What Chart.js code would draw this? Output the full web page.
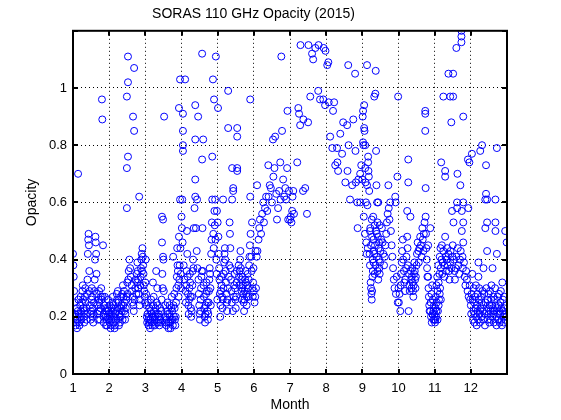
<!DOCTYPE html>
<html>
<head>
<meta charset="utf-8">
<script src="https://cdn.jsdelivr.net/npm/chart.js@4"></script>
<style>
  body { margin: 0; background: #fff; }
  canvas { display: block; }
</style>
</head>
<body>
<canvas id="grafica1" width="561" height="420"></canvas>
<script>
// [month, opacity], one array per month
const m01 = [[1.00,0.42],[1.01,0.38],[1.02,0.34],[1.03,0.29],[1.04,0.25],[1.05,0.21],[1.06,0.19],[1.07,0.17],[1.08,0.20],[1.09,0.23],[1.10,0.18],[1.11,0.16],[1.12,0.19],[1.13,0.22],[1.14,0.70],[1.15,0.26],[1.16,0.21],[1.17,0.18],[1.18,0.17],[1.19,0.20],[1.20,0.24],[1.21,0.27],[1.22,0.22],[1.23,0.19],[1.24,0.21],[1.25,0.25],[1.26,0.29],[1.27,0.31],[1.28,0.26],[1.29,0.23],[1.30,0.20],[1.31,0.18],[1.32,0.22],[1.33,0.27],[1.34,0.30],[1.35,0.25],[1.36,0.21],[1.37,0.19],[1.38,0.23],[1.39,0.28],[1.40,0.33],[1.41,0.42],[1.42,0.47],[1.43,0.49],[1.44,0.45],[1.45,0.36],[1.46,0.29],[1.47,0.24],[1.48,0.21],[1.49,0.19],[1.50,0.22],[1.51,0.26],[1.52,0.30],[1.53,0.27],[1.54,0.23],[1.55,0.20],[1.56,0.18],[1.57,0.21],[1.58,0.25],[1.59,0.29],[1.60,0.33],[1.61,0.40],[1.62,0.48],[1.63,0.46],[1.64,0.42],[1.65,0.35],[1.66,0.28],[1.67,0.24],[1.68,0.21],[1.69,0.19],[1.70,0.22],[1.71,0.26],[1.72,0.29],[1.73,0.25],[1.74,0.22],[1.75,0.19],[1.76,0.23],[1.77,0.27],[1.78,0.30],[1.79,0.26],[1.80,0.96],[1.81,0.89],[1.82,0.27],[1.83,0.45],[1.84,0.20],[1.85,0.18],[1.86,0.21],[1.87,0.24],[1.88,0.27],[1.89,0.23],[1.90,0.20],[1.91,0.17],[1.92,0.22],[1.93,0.19],[1.94,0.17],[1.95,0.20],[1.96,0.23],[1.97,0.26],[1.98,0.22],[1.99,0.19]];
const m02 = [[2.00,0.21],[2.01,0.24],[2.02,0.18],[2.03,0.20],[2.04,0.16],[2.05,0.17],[2.06,0.19],[2.07,0.21],[2.08,0.23],[2.09,0.25],[2.10,0.27],[2.11,0.22],[2.12,0.24],[2.13,0.18],[2.14,0.20],[2.15,0.16],[2.16,0.17],[2.17,0.21],[2.18,0.19],[2.19,0.25],[2.20,0.22],[2.21,0.28],[2.22,0.26],[2.23,0.23],[2.24,0.29],[2.25,0.19],[2.26,0.25],[2.27,0.17],[2.28,0.21],[2.29,0.20],[2.30,0.18],[2.31,0.23],[2.32,0.20],[2.33,0.27],[2.34,0.24],[2.35,0.22],[2.36,0.28],[2.37,0.19],[2.38,0.31],[2.39,0.24],[2.40,0.27],[2.41,0.29],[2.42,0.22],[2.43,0.25],[2.44,0.19],[2.45,0.21],[2.46,0.23],[2.47,0.26],[2.48,0.27],[2.49,0.97],[2.49,0.72],[2.49,0.58],[2.50,0.32],[2.51,0.28],[2.52,1.11],[2.52,1.02],[2.52,0.76],[2.53,0.33],[2.54,0.36],[2.56,0.40],[2.58,0.37],[2.60,0.34],[2.62,0.31],[2.63,0.29],[2.64,0.25],[2.65,0.27],[2.66,0.90],[2.67,0.24],[2.68,0.22],[2.69,1.07],[2.69,0.85],[2.70,0.26],[2.72,0.30],[2.73,0.33],[2.75,0.28],[2.76,0.35],[2.77,0.32],[2.78,0.39],[2.79,0.36],[2.80,0.33],[2.81,0.30],[2.82,0.28],[2.83,0.62],[2.84,0.24],[2.85,0.26],[2.86,0.31],[2.87,0.34],[2.88,0.37],[2.89,0.40],[2.90,0.42],[2.91,0.36],[2.92,0.44],[2.93,0.41],[2.94,0.38],[2.95,0.35],[2.96,0.31],[2.97,0.29],[2.98,0.27],[2.99,0.25]];
const m03 = [[3.00,0.32],[3.01,0.40],[3.02,0.28],[3.03,0.24],[3.04,0.20],[3.05,0.18],[3.06,0.21],[3.07,0.25],[3.08,0.19],[3.09,0.17],[3.10,0.20],[3.11,0.23],[3.12,0.18],[3.13,0.16],[3.14,0.19],[3.15,0.22],[3.16,0.26],[3.17,0.21],[3.18,0.18],[3.19,0.17],[3.20,0.20],[3.21,0.32],[3.22,0.24],[3.23,0.27],[3.24,0.22],[3.25,0.19],[3.26,0.17],[3.27,0.20],[3.28,0.23],[3.29,0.21],[3.30,0.36],[3.31,0.25],[3.32,0.18],[3.33,0.30],[3.34,0.24],[3.35,0.20],[3.36,0.18],[3.37,0.21],[3.38,0.19],[3.39,0.17],[3.40,0.20],[3.41,0.23],[3.42,0.19],[3.43,0.18],[3.44,0.22],[3.45,0.26],[3.46,0.55],[3.46,0.46],[3.47,0.35],[3.48,0.30],[3.49,0.54],[3.49,0.41],[3.50,0.40],[3.51,0.29],[3.52,0.90],[3.55,0.24],[3.56,0.20],[3.57,0.18],[3.58,0.17],[3.59,0.19],[3.60,0.22],[3.61,0.25],[3.62,0.21],[3.63,0.18],[3.64,0.16],[3.65,0.18],[3.66,0.21],[3.67,0.24],[3.68,0.20],[3.69,0.18],[3.70,0.16],[3.71,0.19],[3.72,0.23],[3.73,0.27],[3.74,0.22],[3.75,0.19],[3.76,0.17],[3.77,0.41],[3.78,0.24],[3.79,0.20],[3.80,0.28],[3.81,0.23],[3.82,0.19],[3.83,0.17],[3.84,0.20],[3.85,0.25],[3.86,0.30],[3.87,0.34],[3.88,0.44],[3.89,0.38],[3.90,0.36],[3.91,0.31],[3.92,0.27],[3.93,0.93],[3.93,0.48],[3.94,0.33],[3.95,0.38],[3.96,1.03],[3.96,0.61],[3.97,0.44],[3.98,0.35],[3.99,0.30]];
const m04 = [[4.00,0.55],[4.01,0.51],[4.02,0.61],[4.03,0.46],[4.04,0.91],[4.04,0.85],[4.04,0.80],[4.04,0.78],[4.06,0.38],[4.08,0.33],[4.10,1.03],[4.11,0.29],[4.12,0.25],[4.13,0.31],[4.14,0.36],[4.15,0.50],[4.16,0.42],[4.17,0.34],[4.18,0.28],[4.19,0.24],[4.20,0.21],[4.21,0.26],[4.22,0.30],[4.23,0.35],[4.24,0.32],[4.25,0.27],[4.26,0.23],[4.27,0.20],[4.28,0.22],[4.29,0.27],[4.30,0.31],[4.31,0.36],[4.32,0.40],[4.33,0.37],[4.34,0.51],[4.36,0.58],[4.38,0.94],[4.38,0.82],[4.38,0.68],[4.38,0.62],[4.40,0.51],[4.42,0.43],[4.43,0.61],[4.44,0.37],[4.46,0.90],[4.47,0.33],[4.48,0.28],[4.49,0.24],[4.50,0.21],[4.51,0.19],[4.52,0.22],[4.53,0.26],[4.54,0.30],[4.55,0.34],[4.56,0.36],[4.57,1.12],[4.57,0.75],[4.58,0.51],[4.59,0.36],[4.60,0.82],[4.61,0.31],[4.62,0.27],[4.63,0.23],[4.64,0.20],[4.65,0.18],[4.66,0.21],[4.67,0.24],[4.68,0.28],[4.69,0.32],[4.70,0.29],[4.71,0.25],[4.72,0.22],[4.73,0.19],[4.74,0.21],[4.75,0.25],[4.76,0.29],[4.77,0.33],[4.78,0.37],[4.79,0.35],[4.80,0.30],[4.81,0.24],[4.82,0.42],[4.83,0.47],[4.84,0.53],[4.85,0.76],[4.85,0.61],[4.87,1.03],[4.88,0.49],[4.89,0.44],[4.90,0.96],[4.91,0.57],[4.92,0.52],[4.93,0.61],[4.94,0.47],[4.95,1.11],[4.96,0.40],[4.97,0.35],[4.98,0.57],[4.99,0.26]];
const m05 = [[5.00,0.53],[5.01,0.93],[5.02,0.48],[5.03,0.42],[5.04,0.37],[5.05,0.33],[5.06,0.28],[5.07,0.20],[5.08,0.24],[5.09,0.29],[5.10,0.34],[5.11,0.31],[5.12,0.27],[5.13,0.23],[5.14,0.26],[5.15,0.61],[5.16,0.30],[5.17,0.35],[5.18,0.39],[5.19,0.42],[5.20,0.44],[5.21,0.40],[5.22,0.36],[5.23,0.32],[5.24,0.28],[5.25,0.25],[5.26,0.22],[5.27,0.26],[5.28,0.30],[5.29,0.99],[5.29,0.86],[5.31,0.34],[5.32,0.38],[5.33,0.53],[5.34,0.49],[5.35,0.44],[5.36,0.37],[5.37,0.33],[5.38,0.29],[5.39,0.25],[5.40,0.72],[5.40,0.61],[5.42,0.22],[5.43,0.65],[5.43,0.64],[5.45,0.27],[5.46,0.31],[5.47,0.35],[5.48,0.30],[5.49,0.26],[5.50,0.23],[5.51,0.27],[5.52,0.32],[5.53,0.36],[5.54,0.86],[5.54,0.83],[5.54,0.72],[5.54,0.71],[5.58,0.38],[5.59,0.34],[5.60,0.31],[5.61,0.36],[5.62,0.40],[5.63,0.43],[5.64,0.37],[5.65,0.33],[5.66,0.29],[5.67,0.26],[5.68,0.30],[5.69,0.34],[5.70,0.31],[5.71,0.28],[5.72,0.25],[5.73,0.22],[5.74,0.26],[5.75,0.29],[5.76,0.33],[5.77,0.36],[5.78,0.32],[5.79,0.28],[5.80,0.24],[5.81,0.27],[5.82,0.31],[5.83,0.35],[5.84,0.30],[5.85,0.27],[5.86,0.33],[5.87,0.38],[5.88,0.41],[5.89,0.45],[5.90,0.96],[5.90,0.62],[5.91,0.49],[5.93,0.41],[5.94,0.36],[5.95,0.53],[5.96,0.30],[5.97,0.27],[5.98,0.32],[5.99,0.37]];
const m06 = [[6.00,0.29],[6.02,0.25],[6.04,0.27],[6.05,0.43],[6.06,0.30],[6.08,0.41],[6.09,0.66],[6.10,0.43],[6.13,0.47],[6.15,0.51],[6.17,0.54],[6.20,0.49],[6.23,0.56],[6.26,0.60],[6.28,0.53],[6.31,0.58],[6.34,0.62],[6.37,0.57],[6.40,0.73],[6.41,0.62],[6.44,0.66],[6.47,0.65],[6.50,0.60],[6.53,0.82],[6.54,0.69],[6.57,0.72],[6.59,0.83],[6.62,0.63],[6.64,0.54],[6.67,0.58],[6.70,0.64],[6.73,0.74],[6.74,0.61],[6.76,1.11],[6.78,0.85],[6.81,0.68],[6.84,0.62],[6.87,0.65],[6.89,0.61],[6.92,0.72],[6.93,0.92],[6.95,0.54],[6.97,0.64]];
const m07 = [[7.00,0.54],[7.02,0.55],[7.04,0.53],[7.06,0.57],[7.07,0.62],[7.09,0.64],[7.11,0.56],[7.20,0.74],[7.23,0.93],[7.25,0.91],[7.28,0.87],[7.29,1.15],[7.36,0.64],[7.37,0.89],[7.42,0.65],[7.47,0.56],[7.50,0.88],[7.51,1.15],[7.56,0.97],[7.61,1.12],[7.64,1.10],[7.70,1.14],[7.78,0.99],[7.79,1.15],[7.83,0.96],[7.92,0.96],[7.93,1.14],[7.97,0.94],[7.98,1.13]];
const m08 = [[8.03,1.08],[8.06,1.09],[8.07,0.95],[8.11,0.83],[8.17,0.79],[8.19,0.92],[8.22,0.95],[8.25,0.73],[8.30,0.79],[8.31,0.74],[8.33,0.71],[8.39,0.84],[8.44,0.77],[8.47,0.88],[8.53,0.67],[8.58,0.87],[8.59,0.71],[8.61,1.08],[8.62,0.80],[8.66,0.61],[8.72,0.66],[8.75,0.89],[8.80,1.05],[8.81,0.78],[8.82,0.67],[8.86,0.60],[8.87,0.51],[8.89,0.68],[8.94,0.60],[8.94,0.70],[8.97,0.73]];
const m09 = [[9.00,0.68],[9.01,0.90],[9.02,0.92],[9.02,0.81],[9.03,0.80],[9.04,0.55],[9.05,0.94],[9.05,0.86],[9.06,0.85],[9.07,0.49],[9.08,0.80],[9.08,0.72],[9.09,0.67],[9.10,0.60],[9.11,0.46],[9.12,0.42],[9.13,1.08],[9.13,0.66],[9.14,0.59],[9.15,0.44],[9.16,0.76],[9.16,0.74],[9.17,0.71],[9.18,0.69],[9.19,0.64],[9.20,0.42],[9.21,0.38],[9.21,0.50],[9.22,0.51],[9.23,0.32],[9.24,0.30],[9.24,0.45],[9.25,0.28],[9.26,0.26],[9.26,0.54],[9.27,0.29],[9.27,0.48],[9.28,0.34],[9.29,0.40],[9.29,0.36],[9.30,0.55],[9.31,0.47],[9.31,0.39],[9.32,0.43],[9.33,0.97],[9.33,0.42],[9.34,0.52],[9.34,0.35],[9.35,0.45],[9.36,0.98],[9.36,0.38],[9.37,1.06],[9.38,0.78],[9.38,0.50],[9.39,0.66],[9.40,0.49],[9.40,0.41],[9.41,0.60],[9.42,0.53],[9.42,0.36],[9.43,0.48],[9.44,0.60],[9.44,0.33],[9.45,0.44],[9.46,0.40],[9.46,0.46],[9.47,0.37],[9.48,0.35],[9.48,0.52],[9.49,0.39],[9.50,0.43],[9.52,0.47],[9.54,0.51],[9.56,0.46],[9.58,0.42],[9.60,0.38],[9.62,0.41],[9.64,0.45],[9.66,0.49],[9.68,0.53],[9.70,0.56],[9.72,0.66],[9.73,0.58],[9.75,0.54],[9.77,0.60],[9.79,0.50],[9.81,0.45],[9.83,0.41],[9.85,0.37],[9.87,0.33],[9.89,0.30],[9.91,0.62],[9.92,0.60],[9.93,0.28],[9.95,0.34],[9.97,0.69],[9.98,0.25],[9.99,0.97]];
const m10 = [[10.00,0.30],[10.01,0.25],[10.03,0.28],[10.05,0.22],[10.06,0.31],[10.07,0.35],[10.09,0.39],[10.10,0.43],[10.12,0.47],[10.13,0.40],[10.15,0.36],[10.16,0.32],[10.18,0.29],[10.19,0.33],[10.21,0.37],[10.22,0.41],[10.24,0.57],[10.24,0.48],[10.25,0.44],[10.26,0.38],[10.27,0.75],[10.27,0.67],[10.28,0.22],[10.29,0.35],[10.30,0.31],[10.31,0.29],[10.33,0.55],[10.34,0.36],[10.35,0.33],[10.36,0.30],[10.37,0.34],[10.38,0.37],[10.39,0.32],[10.40,0.29],[10.41,0.27],[10.42,0.31],[10.43,0.35],[10.44,0.39],[10.45,0.36],[10.46,0.33],[10.47,0.30],[10.48,0.34],[10.50,0.38],[10.51,0.42],[10.53,0.46],[10.55,0.43],[10.56,0.39],[10.58,0.44],[10.60,0.48],[10.62,0.45],[10.64,0.41],[10.66,0.51],[10.67,0.47],[10.69,0.43],[10.70,0.49],[10.72,0.53],[10.74,0.92],[10.74,0.91],[10.74,0.85],[10.75,0.55],[10.75,0.65],[10.76,0.49],[10.77,0.44],[10.78,0.40],[10.79,0.37],[10.80,0.34],[10.82,0.45],[10.82,0.34],[10.83,0.30],[10.84,0.27],[10.85,0.24],[10.86,0.22],[10.88,0.51],[10.88,0.22],[10.89,0.25],[10.90,0.20],[10.91,0.28],[10.92,0.18],[10.93,0.31],[10.94,0.21],[10.95,0.26],[10.96,0.19],[10.97,0.22],[10.98,0.24],[10.99,0.19]];
const m11 = [[11.00,0.21],[11.01,0.18],[11.02,0.23],[11.02,0.19],[11.03,0.27],[11.04,0.20],[11.05,0.31],[11.05,0.22],[11.06,0.25],[11.07,0.34],[11.08,0.29],[11.08,0.19],[11.09,0.22],[11.10,0.38],[11.11,0.32],[11.11,0.24],[11.12,0.26],[11.13,0.35],[11.14,0.41],[11.14,0.28],[11.15,0.30],[11.16,0.44],[11.17,0.37],[11.17,0.26],[11.18,0.74],[11.19,0.40],[11.20,0.45],[11.21,0.35],[11.22,0.39],[11.24,0.97],[11.24,0.43],[11.26,0.38],[11.27,0.34],[11.29,0.71],[11.29,0.69],[11.29,0.48],[11.30,0.41],[11.32,0.36],[11.33,0.40],[11.35,0.44],[11.36,0.38],[11.38,1.05],[11.38,0.42],[11.40,0.36],[11.41,0.33],[11.43,0.97],[11.43,0.39],[11.44,0.43],[11.46,0.88],[11.46,0.37],[11.48,0.57],[11.49,0.41],[11.50,0.45],[11.51,1.05],[11.51,0.97],[11.52,0.53],[11.53,0.40],[11.55,0.36],[11.56,0.33],[11.58,0.37],[11.60,1.14],[11.60,0.41],[11.62,0.60],[11.62,0.58],[11.63,0.70],[11.64,0.44],[11.66,0.38],[11.68,0.35],[11.70,0.40],[11.71,0.66],[11.72,0.43],[11.74,1.20],[11.74,1.18],[11.74,1.16],[11.75,0.57],[11.75,0.50],[11.77,0.41],[11.78,0.37],[11.79,0.90],[11.79,0.60],[11.79,0.53],[11.79,0.46],[11.81,0.39],[11.83,0.34],[11.85,0.31],[11.87,0.36],[11.89,0.33],[11.91,0.29],[11.92,0.75],[11.93,0.58],[11.94,0.27],[11.96,0.74],[11.97,0.31],[11.98,0.26]];
const m12 = [[12.00,0.24],[12.01,0.21],[12.02,0.28],[12.03,0.77],[12.04,0.35],[12.05,0.26],[12.06,0.19],[12.07,0.22],[12.08,0.30],[12.09,0.25],[12.10,0.18],[12.11,0.21],[12.12,0.27],[12.13,0.23],[12.14,0.31],[12.15,0.20],[12.16,0.17],[12.17,0.24],[12.18,0.28],[12.19,0.22],[12.20,0.19],[12.21,0.39],[12.21,0.34],[12.22,0.26],[12.23,0.30],[12.24,0.21],[12.25,0.18],[12.26,0.78],[12.27,0.23],[12.28,0.27],[12.29,0.20],[12.30,0.25],[12.31,0.80],[12.32,0.29],[12.33,0.22],[12.34,0.19],[12.35,0.37],[12.36,0.24],[12.37,0.28],[12.38,0.21],[12.39,0.17],[12.40,0.61],[12.40,0.51],[12.41,0.25],[12.42,0.73],[12.42,0.63],[12.43,0.30],[12.44,0.22],[12.45,0.61],[12.45,0.53],[12.45,0.43],[12.46,0.26],[12.47,0.19],[12.48,0.23],[12.49,0.28],[12.50,0.21],[12.51,0.18],[12.52,0.24],[12.53,0.29],[12.54,0.22],[12.55,0.19],[12.56,0.26],[12.57,0.31],[12.58,0.24],[12.59,0.20],[12.60,0.37],[12.61,0.23],[12.62,0.27],[12.63,0.21],[12.64,0.18],[12.65,0.22],[12.66,0.26],[12.67,0.30],[12.68,0.61],[12.68,0.53],[12.68,0.50],[12.69,0.24],[12.70,0.20],[12.71,0.17],[12.72,0.79],[12.72,0.42],[12.73,0.23],[12.74,0.27],[12.75,0.21],[12.76,0.19],[12.77,0.24],[12.78,0.28],[12.79,0.22],[12.80,0.18],[12.81,0.21],[12.82,0.25],[12.83,0.29],[12.84,0.23],[12.85,0.19],[12.86,0.17],[12.87,0.32],[12.88,0.22],[12.89,0.26],[12.90,0.20],[12.91,0.18],[12.92,0.23],[12.93,0.27],[12.94,0.21],[12.95,0.50],[12.96,0.19],[12.97,0.24],[12.98,0.20],[12.99,0.46]];

const months = [m01, m02, m03, m04, m05, m06, m07, m08, m09, m10, m11, m12];
const xTicks = [1, 2, 3, 4, 5, 6, 7, 8, 9, 10, 11, 12];
const yTicks = ['0', '0.2', '0.4', '0.6', '0.8', '1'];

const puntos = [];
months.forEach(m => m.forEach(p => puntos.push({x: p[0], y: p[1]})));

const fuente = {family: 'Liberation Sans, Arial, sans-serif', size: 13};

// box round the axes with inward tick marks, like the original
const marco = {
    id: 'marco',
    afterDraw(chart) {
        const {ctx, chartArea: a, scales: {x, y}} = chart;
        ctx.save();
        ctx.strokeStyle = '#000';
        ctx.lineWidth = 2;
        ctx.beginPath();
        x.ticks.forEach(t => {
            const px = Math.round(x.getPixelForValue(t.value));
            ctx.moveTo(px, a.bottom); ctx.lineTo(px, a.bottom - 5);
            ctx.moveTo(px, a.top); ctx.lineTo(px, a.top + 5);
        });
        y.ticks.forEach(t => {
            const py = Math.round(y.getPixelForValue(t.value));
            ctx.moveTo(a.left, py); ctx.lineTo(a.left + 5, py);
            ctx.moveTo(a.right, py); ctx.lineTo(a.right - 5, py);
        });
        ctx.stroke();
        ctx.strokeRect(a.left, a.top, a.right - a.left, a.bottom - a.top);
        ctx.restore();
    }
};

const grafica1 = document.getElementById('grafica1').getContext('2d');
const grafica = new Chart(grafica1, {
    type: 'scatter',
    data: {
        datasets: [{
            label: 'Opacity',
            data: puntos,
            pointStyle: 'circle',
            pointRadius: 3.5,
            pointHoverRadius: 3.5,
            pointBorderWidth: 1,
            pointBorderColor: '#0000ff',
            pointBackgroundColor: 'rgba(0,0,0,0)'
        }]
    },
    options: {
        responsive: false,
        animation: false,
        devicePixelRatio: 1,
        layout: {padding: {left: 0, right: 54, top: 0, bottom: 0}},
        plugins: {
            legend: {display: false},
            tooltip: {enabled: false},
            title: {
                display: true,
                text: 'SORAS 110 GHz Opacity (2015)',
                color: '#000',
                font: {family: fuente.family, size: 14, weight: 'normal'},
                padding: {top: 6, bottom: 8}
            }
        },
        scales: {
            x: {
                type: 'linear',
                min: 1,
                max: 13,
                afterFit: s => { s.height = 46; },
                afterBuildTicks: s => { s.ticks = xTicks.concat([13]).map(v => ({value: v})); },
                ticks: {
                    color: '#000',
                    font: fuente,
                    padding: 7,
                    maxRotation: 0,
                    callback: v => xTicks.includes(v) ? String(v) : ''
                },
                grid: {color: '#000', lineWidth: 1, drawTicks: false},
                border: {display: false, dash: [1, 3]},
                title: {
                    display: true,
                    text: 'Month',
                    color: '#000',
                    font: {family: fuente.family, size: 14},
                    padding: {top: 0, bottom: 6}
                }
            },
            y: {
                min: 0,
                max: 1.2,
                afterFit: s => { s.width = 73; },
                afterBuildTicks: s => { s.ticks = yTicks.map(v => ({value: parseFloat(v)})).concat([{value: 1.2}]); },
                ticks: {
                    color: '#000',
                    font: fuente,
                    padding: 6,
                    callback: (v, i) => yTicks[i] !== undefined ? yTicks[i] : ''
                },
                grid: {color: '#000', lineWidth: 1, drawTicks: false},
                border: {display: false, dash: [1, 3]},
                title: {
                    display: true,
                    text: 'Opacity',
                    color: '#000',
                    font: {family: fuente.family, size: 14},
                    padding: {top: 24, bottom: 0}
                }
            }
        }
    },
    plugins: [marco]
});
</script>
</body>
</html>
